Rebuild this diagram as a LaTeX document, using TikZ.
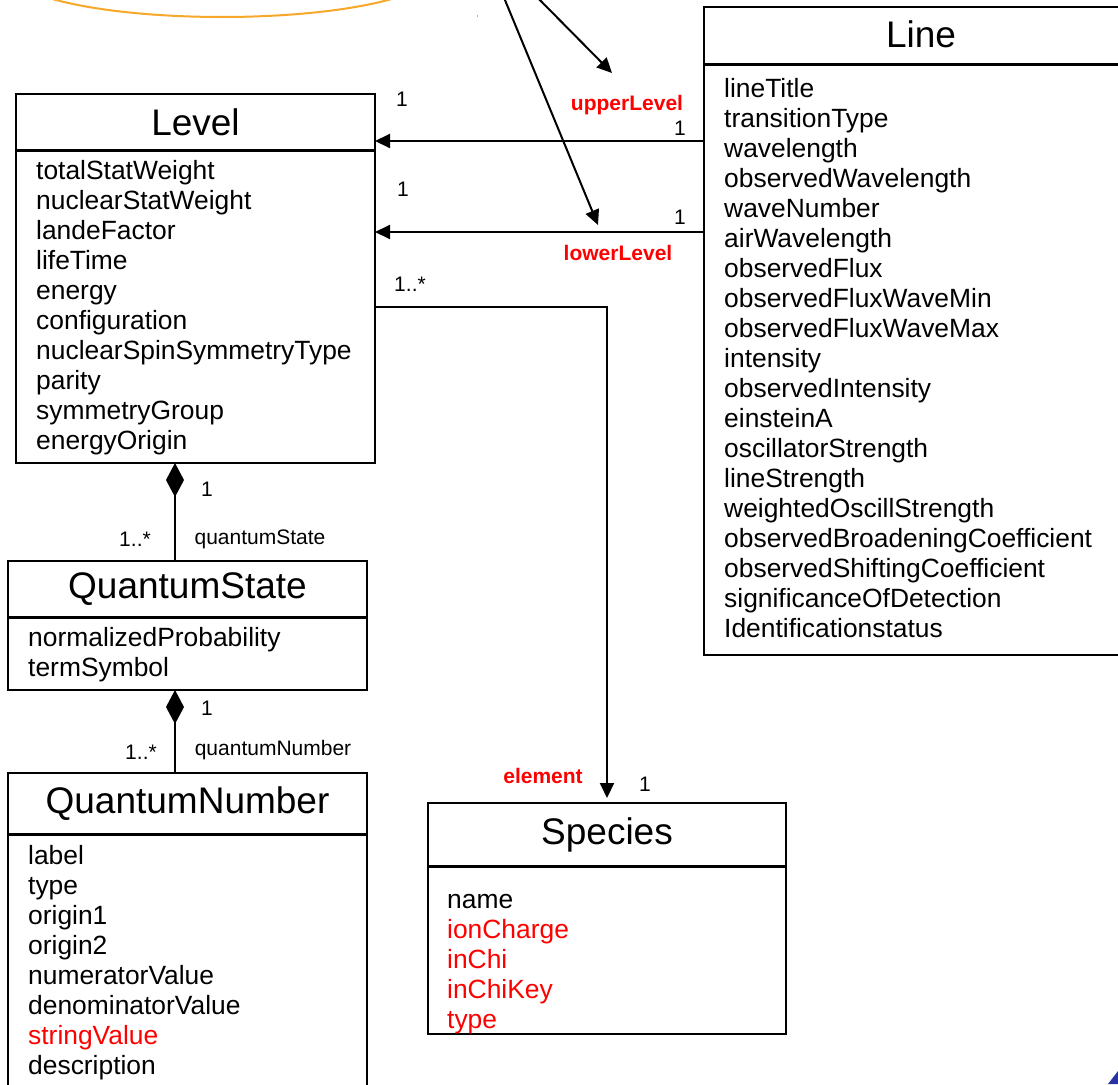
\documentclass[tikz,border=0pt]{standalone}
\usepackage{fontspec}
\setmainfont{Liberation Sans}
\usetikzlibrary{arrows.meta,positioning}

\definecolor{ellorange}{RGB}{247,168,40}
\definecolor{cornerblue}{RGB}{40,50,160}
\newcommand\titlefont{\fontsize{37}{44}\selectfont}
\newcommand\attrfont{\fontsize{26.4}{30}\selectfont}
\newcommand\multfont{\fontsize{21}{25}\selectfont}
\newcommand\rolefont{\fontsize{21}{25}\selectfont\bfseries}

\begin{document}
\begin{tikzpicture}[
  x=1pt, y=-1pt,
  ctitle/.style={draw, line width=2pt, anchor=north west, outer sep=0pt, inner sep=0pt, font=\titlefont},
  cbody/.style={draw, line width=2pt, outer sep=0pt, inner sep=0pt},
  cattr/.style={align=left, inner sep=0pt, anchor=north west, font=\attrfont, execute at begin node=\strut},
  mult/.style={font=\multfont, inner sep=1pt},
  role/.style={font=\rolefont, text=red, inner sep=1pt},
  assoc/.style={-{Triangle[length=15pt,width=14pt]}, line width=2pt},
  comp/.style={-{Diamond[length=34pt,width=18pt]}, line width=2pt}
]
  \useasboundingbox (0,0) rectangle (1118,1084);
  \clip (0,0) rectangle (1118,1084);

  % cut-off shapes at the edges
  \draw[ellorange, line width=2pt] (222,-28) ellipse [x radius=212, y radius=45];
  \fill[ellorange] (476.5,14.5) rectangle (478,17);
  \fill[cornerblue] (1118,1071) -- (1118,1084) -- (1108,1084) -- cycle;

  % classes
  \node[ctitle, minimum width=359pt, minimum height=56pt] (lvl) at (16,94) {Level};
  \node[cbody, minimum width=359pt, minimum height=312pt, below=1pt of lvl] (lvlb) {};
  \node[cattr, below right=9.5pt and 20pt of lvlb.north west] (lvla) {totalStatWeight\\nuclearStatWeight\\landeFactor\\lifeTime\\energy\\configuration\\nuclearSpinSymmetryType\\parity\\symmetryGroup\\energyOrigin};

  \node[ctitle, minimum width=434pt, minimum height=57pt, text depth=2pt] (ln) at (704,7) {Line};
  \node[cbody, minimum width=434pt, minimum height=590pt, below=1pt of ln] (lnb) {};
  \node[cattr, below right=13pt and 20pt of lnb.north west] (lna) {lineTitle\\transitionType\\wavelength\\observedWavelength\\waveNumber\\airWavelength\\observedFlux\\observedFluxWaveMin\\observedFluxWaveMax\\intensity\\observedIntensity\\einsteinA\\oscillatorStrength\\lineStrength\\weightedOscillStrength\\observedBroadeningCoefficient\\observedShiftingCoefficient\\significanceOfDetection\\Identificationstatus};

  \node[ctitle, minimum width=359pt, minimum height=56pt] (qs) at (8,561) {QuantumState};
  \node[cbody, minimum width=359pt, minimum height=72pt, below=1pt of qs] (qsb) {};
  \node[cattr, below right=9pt and 20pt of qsb.north west] (qsa) {normalizedProbability\\termSymbol};

  \node[ctitle, minimum width=359pt, minimum height=61pt] (qn) at (8,773) {QuantumNumber};
  \node[cbody, minimum width=359pt, minimum height=300pt, below=1pt of qn] (qnb) {};
  \node[cattr, below right=10pt and 20pt of qnb.north west] (qna) {label\\type\\origin1\\origin2\\numeratorValue\\denominatorValue\\\textcolor{red}{stringValue}\\description};

  \node[ctitle, minimum width=358pt, minimum height=63pt] (sp) at (428,803) {Species};
  \node[cbody, minimum width=358pt, minimum height=167pt, below=1pt of sp] (spb) {};
  \node[cattr, below right=27pt and 19pt of spb.north west] (spa) {name\\\textcolor{red}{ionCharge}\\\textcolor{red}{inChi}\\\textcolor{red}{inChiKey}\\\textcolor{red}{type}};

  % associations
  \draw[assoc] (lnb.west |- 0,141) -- (lvl.east |- 0,141);
  \draw[assoc] (lnb.west |- 0,232) -- (lvlb.east |- 0,232);
  \draw[assoc, shorten >=5pt] (lvlb.east |- 0,307) -| (sp.north);
  \coordinate (srcA) at (500,-12);
  \coordinate (tipA) at (598,225);
  \coordinate (srcB) at (528,-12);
  \coordinate (tipB) at (612,73);
  \draw[assoc] (srcA) -- (tipA);
  \draw[assoc] (srcB) -- (tipB);

  % compositions
  \draw[comp] (qs.north -| 175,0) -- (lvlb.south -| 175,0);
  \draw[comp] (qn.north -| 175,0) -- (qsb.south -| 175,0);

  % labels
  \node[mult] (m1) at (402,99) {1};
  \node[mult] (m2) at (680,128) {1};
  \node[role] (r1) at (627,105) {upperLevel};
  \node[mult] (m3) at (403,189) {1};
  \node[mult] (m4) at (680,217) {1};
  \node[role] (r2) at (618,253) {lowerLevel};
  \node[mult] (m5) at (410,284) {1..*};
  \node[role] (r3) at (543,776) {element};
  \node[mult] (m6) at (645,784) {1};
  \node[mult] (m7) at (207,489) {1};
  \node[mult] (m8) at (135,539) {1..*};
  \node[mult] (l1) at (260,539) {quantumState};
  \node[mult] (m9) at (207,708) {1};
  \node[mult] (m10) at (141,752) {1..*};
  \node[mult] (l2) at (273,750) {quantumNumber};
\end{tikzpicture}
\end{document}
